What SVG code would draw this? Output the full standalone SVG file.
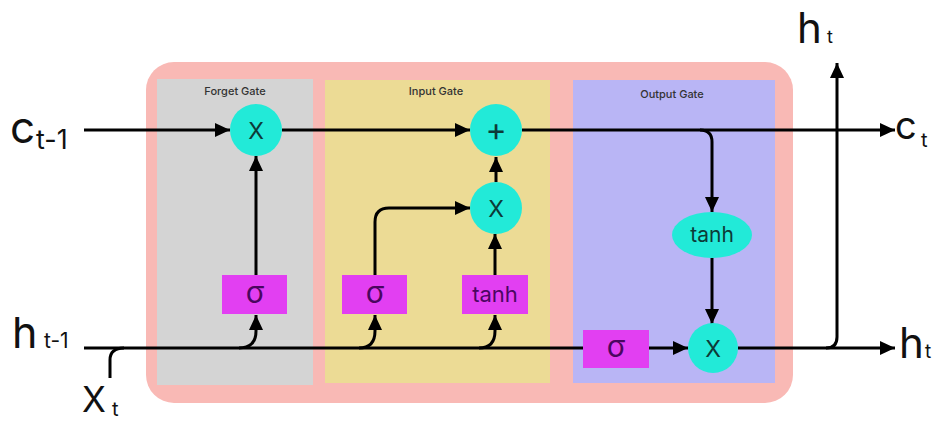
<svg xmlns="http://www.w3.org/2000/svg" width="944" height="421" viewBox="0 0 944 421">
<style>
.lbl{font-family:Inter,"Liberation Sans",sans-serif;fill:#111}
.title{font-family:Inter,"Liberation Sans",sans-serif;font-size:11px;font-weight:500;fill:#333;text-anchor:middle}
.op{fill:#22ead8}
.box{fill:#e23ff2}
.optxt{font-family:Inter,"Liberation Sans",sans-serif;font-size:23px;fill:#0d3b38;text-anchor:middle;dominant-baseline:central}
.boxtxt{font-family:Inter,"Liberation Sans",sans-serif;font-size:22px;fill:#4a0660;text-anchor:middle;dominant-baseline:central}
.sig{font-size:30px}
.wire{fill:none;stroke:#000;stroke-width:3}
</style>
<defs>
<marker id="ah" markerUnits="userSpaceOnUse" markerWidth="16" markerHeight="16" viewBox="0 0 16 16" refX="15" refY="8" orient="auto">
<path d="M0,1 L15,8 L0,15 Z" fill="#000"/>
</marker>
</defs>
<rect width="944" height="421" fill="#fff"/>
<g id="cell">
<rect x="146" y="62" width="647" height="341" rx="28" fill="#f9b9b5"/>
</g>
<g id="forget-gate">
<rect x="157" y="79" width="156" height="306" fill="#d4d4d4"/>
<text class="title" x="235" y="95">Forget Gate</text>
</g>
<g id="input-gate">
<rect x="325" y="80" width="225" height="303" fill="#ecdb95"/>
<text class="title" x="436" y="95">Input Gate</text>
</g>
<g id="output-gate">
<rect x="573" y="80" width="202" height="303" fill="#b9b5f5"/>
<text class="title" x="672" y="98">Output Gate</text>
</g>
<g id="connectors">
<path class="wire" d="M84,130 H230" marker-end="url(#ah)"/>
<path class="wire" d="M282,130 H470" marker-end="url(#ah)"/>
<path class="wire" d="M522,130 H895" marker-end="url(#ah)"/>
<path class="wire" d="M700,130 Q712,130 712,142 V212" marker-end="url(#ah)"/>
<path class="wire" d="M712,258 V324" marker-end="url(#ah)"/>
<path class="wire" d="M738,348 H895" marker-end="url(#ah)"/>
<path class="wire" d="M826,348 Q837,348 837,337 V63" marker-end="url(#ah)"/>
<path class="wire" d="M84,348 H583"/>
<path class="wire" d="M110,378 V360 Q110,348 124,348"/>
<path class="wire" d="M239,348 Q256,348 256,331 V315" marker-end="url(#ah)"/>
<path class="wire" d="M359,348 Q375,348 375,331 V315" marker-end="url(#ah)"/>
<path class="wire" d="M479,348 Q495,348 495,331 V315" marker-end="url(#ah)"/>
<path class="wire" d="M256,275 V156" marker-end="url(#ah)"/>
<path class="wire" d="M375,275 V222 Q375,208 389,208 H470" marker-end="url(#ah)"/>
<path class="wire" d="M495,275 V234" marker-end="url(#ah)"/>
<path class="wire" d="M496,182 V157" marker-end="url(#ah)"/>
<path class="wire" d="M649,348 H688" marker-end="url(#ah)"/>
</g>
<g id="forget-mult">
<circle class="op" cx="256" cy="130" r="26"/>
<text class="optxt" x="256" y="131">X</text>
</g>
<g id="input-add">
<circle class="op" cx="496" cy="130" r="26"/>
<text class="optxt" x="496" y="129" style="font-size:32px">+</text>
</g>
<g id="input-mult">
<circle class="op" cx="496" cy="208" r="26"/>
<text class="optxt" x="496" y="209">X</text>
</g>
<g id="output-tanh">
<ellipse class="op" cx="712" cy="235" rx="40" ry="23"/>
<text class="optxt" x="712" y="234" style="font-size:21px">tanh</text>
</g>
<g id="output-mult">
<circle class="op" cx="713" cy="348" r="25"/>
<text class="optxt" x="713" y="349">X</text>
</g>
<g id="forget-sigma">
<rect class="box" x="222" y="275" width="65" height="39"/>
<text class="boxtxt sig" x="255" y="292">σ</text>
</g>
<g id="input-sigma">
<rect class="box" x="342" y="275" width="65" height="39"/>
<text class="boxtxt sig" x="375" y="292">σ</text>
</g>
<g id="input-tanh">
<rect class="box" x="462" y="275" width="66" height="39"/>
<text class="boxtxt" x="495" y="294">tanh</text>
</g>
<g id="output-sigma">
<rect class="box" x="583" y="330" width="66" height="38"/>
<text class="boxtxt sig" x="616" y="346">σ</text>
</g>
<g id="labels">
<text class="lbl" x="10" y="143" font-size="44">c</text>
<text class="lbl" x="36" y="149" font-size="27">t-1</text>
<text class="lbl" x="12" y="348" font-size="43">h</text>
<text class="lbl" x="44" y="348" font-size="21">t-1</text>
<text class="lbl" x="82" y="412" font-size="35">X</text>
<text class="lbl" x="112" y="416" font-size="20">t</text>
<text class="lbl" x="895" y="139" font-size="38">c</text>
<text class="lbl" x="921" y="147" font-size="20">t</text>
<text class="lbl" x="899" y="358" font-size="42">h</text>
<text class="lbl" x="925" y="358" font-size="19">t</text>
<text class="lbl" x="797" y="43" font-size="42">h</text>
<text class="lbl" x="827" y="43" font-size="18">t</text>
</g>
</svg>
